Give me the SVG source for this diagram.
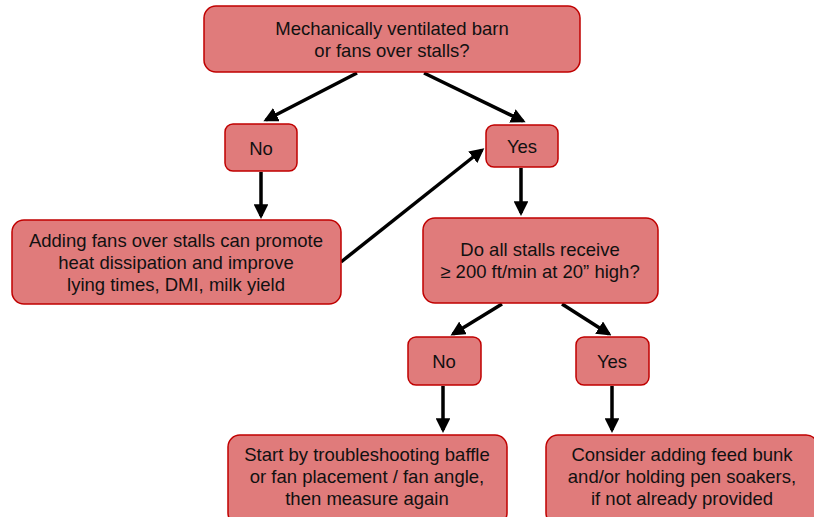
<svg xmlns="http://www.w3.org/2000/svg" width="814" height="517" viewBox="0 0 814 517">
<defs>
<style>
.box{fill:#E07B7B;stroke:#C00000;stroke-width:1.5}
.t{font-family:"Liberation Sans",Arial,sans-serif;font-size:18.5px;fill:#111;text-anchor:middle}
.c{stroke:#000;stroke-width:3.5;fill:none;marker-end:url(#ah)}
</style>
<marker id="ah" viewBox="0 0 10 10" refX="8" refY="5" markerWidth="4.2" markerHeight="4.2" orient="auto" markerUnits="strokeWidth">
<path d="M0,0 L10,5 L0,10 z" fill="#000"/>
</marker>
</defs>
<rect width="814" height="517" fill="#fff"/>
<g id="connectors">
<line class="c" x1="357" y1="73" x2="266" y2="120"/>
<line class="c" x1="424" y1="73" x2="523" y2="121"/>
<line class="c" x1="261" y1="172" x2="261" y2="216"/>
<line class="c" x1="341" y1="262" x2="482" y2="150"/>
<line class="c" x1="521" y1="168" x2="521" y2="213"/>
<line class="c" x1="502" y1="304" x2="453" y2="334"/>
<line class="c" x1="562" y1="304" x2="609" y2="334"/>
<line class="c" x1="443" y1="386" x2="443" y2="430"/>
<line class="c" x1="612" y1="386" x2="612" y2="430"/>
</g>
<g id="n1"><rect class="box" x="204" y="6" width="376" height="66" rx="12"/>
<text class="t" x="392" y="35">Mechanically ventilated barn</text>
<text class="t" x="392" y="57">or fans over stalls?</text></g>
<g id="n2"><rect class="box" x="225" y="124" width="72" height="47" rx="8"/>
<text class="t" x="261" y="155">No</text></g>
<g id="n3"><rect class="box" x="486" y="125" width="72" height="42" rx="8"/>
<text class="t" x="522" y="153">Yes</text></g>
<g id="n4"><rect class="box" x="12" y="220" width="329" height="84" rx="12"/>
<text class="t" x="176" y="247">Adding fans over stalls can promote</text>
<text class="t" x="176" y="269">heat dissipation and improve</text>
<text class="t" x="176" y="291">lying times, DMI, milk yield</text></g>
<g id="n5"><rect class="box" x="423" y="218" width="235" height="85" rx="12"/>
<text class="t" x="540" y="256">Do all stalls receive</text>
<text class="t" x="540" y="278">≥ 200 ft/min at 20” high?</text></g>
<g id="n6"><rect class="box" x="408" y="337" width="73" height="48" rx="8"/>
<text class="t" x="444" y="368">No</text></g>
<g id="n7"><rect class="box" x="576" y="337" width="73" height="48" rx="8"/>
<text class="t" x="612" y="368">Yes</text></g>
<g id="n8"><rect class="box" x="228" y="435" width="279" height="90" rx="12"/>
<text class="t" x="367" y="461">Start by troubleshooting baffle</text>
<text class="t" x="367" y="483">or fan placement / fan angle,</text>
<text class="t" x="367" y="505">then measure again</text></g>
<g id="n9"><rect class="box" x="546" y="435" width="272" height="90" rx="12"/>
<text class="t" x="682" y="461">Consider adding feed bunk</text>
<text class="t" x="682" y="483">and/or holding pen soakers,</text>
<text class="t" x="682" y="505">if not already provided</text></g>
</svg>
